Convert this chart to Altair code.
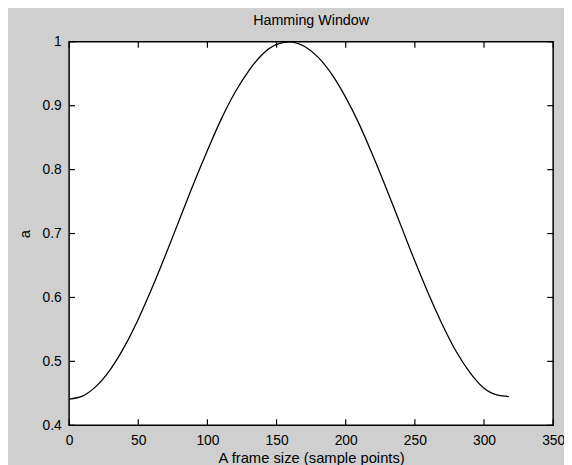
import altair as alt
import pandas as pd

# Values
sample_x = [0, 10, 20, 30, 40, 50, 60, 70, 80, 90, 100, 110, 120, 130, 140, 150,
            159, 170, 180, 190, 200, 210, 220, 230, 240, 250, 260, 270, 280, 290,
            300, 310, 318]
window_y = [0.441, 0.446, 0.462, 0.488, 0.523, 0.566, 0.615, 0.668, 0.723, 0.778,
            0.830, 0.879, 0.921, 0.955, 0.981, 0.996, 1.000, 0.993, 0.976, 0.949,
            0.913, 0.870, 0.820, 0.767, 0.712, 0.657, 0.605, 0.557, 0.515, 0.482,
            0.458, 0.447, 0.445]
x_ticks = [0, 50, 100, 150, 200, 250, 300, 350]
y_ticks = [0.4, 0.5, 0.6, 0.7, 0.8, 0.9, 1.0]

W, H = 491, 389
TL = 6  # inward tick length (style)
FONT = "Liberation Sans"

df = pd.DataFrame({"x": sample_x, "y": window_y})
dxt = pd.DataFrame({"x": x_ticks})
dyt = pd.DataFrame({"y": y_ticks})

xscale = alt.Scale(domain=[0, 350], nice=False, zero=False)
yscale = alt.Scale(domain=[0.4, 1.0], nice=False, zero=False)

xaxis = alt.Axis(values=x_ticks, title="A frame size (sample points)",
                 ticks=False, domain=False, grid=False,
                 labelPadding=9, titlePadding=3, labelFlush=False)
yaxis = alt.Axis(values=y_ticks, title="a", ticks=False, domain=False,
                 grid=False, labelPadding=8, titlePadding=10,
                 format=".1~f", labelFlush=False)

line = alt.Chart(df).mark_line(color="black", strokeWidth=1.3, interpolate="monotone").encode(
    x=alt.X("x:Q", scale=xscale, axis=xaxis),
    y=alt.Y("y:Q", scale=yscale, axis=yaxis),
)

xt_bottom = alt.Chart(dxt).mark_rule(color="black", strokeWidth=1.2).encode(
    x=alt.X("x:Q", scale=xscale, axis=xaxis),
    y=alt.value(H), y2=alt.value(H - TL))
xt_top = alt.Chart(dxt).mark_rule(color="black", strokeWidth=1.2).encode(
    x=alt.X("x:Q", scale=xscale, axis=xaxis),
    y=alt.value(0), y2=alt.value(TL))
yt_left = alt.Chart(dyt).mark_rule(color="black", strokeWidth=1.2).encode(
    y=alt.Y("y:Q", scale=yscale, axis=yaxis),
    x=alt.value(0), x2=alt.value(TL))
yt_right = alt.Chart(dyt).mark_rule(color="black", strokeWidth=1.2).encode(
    y=alt.Y("y:Q", scale=yscale, axis=yaxis),
    x=alt.value(W), x2=alt.value(W - TL))

chart = alt.layer(line, xt_bottom, xt_top, yt_left, yt_right).properties(
    width=W, height=H,
    title=alt.TitleParams("Hamming Window", fontSize=14.5, font=FONT,
                          fontWeight="normal", color="black", offset=7),
    autosize=alt.AutoSizeParams(type="none"),
    padding={"left": 62, "top": 31, "right": 11, "bottom": 37},
    background="#cfcfcf",
).configure_view(
    fill="white", stroke="black", strokeWidth=1.5
).configure_axis(
    labelFont=FONT, titleFont=FONT, labelFontSize=14, titleFontSize=15,
    labelColor="black", titleColor="black", titleFontWeight="normal",
)

chart.save("out.html", embed_options={"renderer": "svg", "actions": False})
